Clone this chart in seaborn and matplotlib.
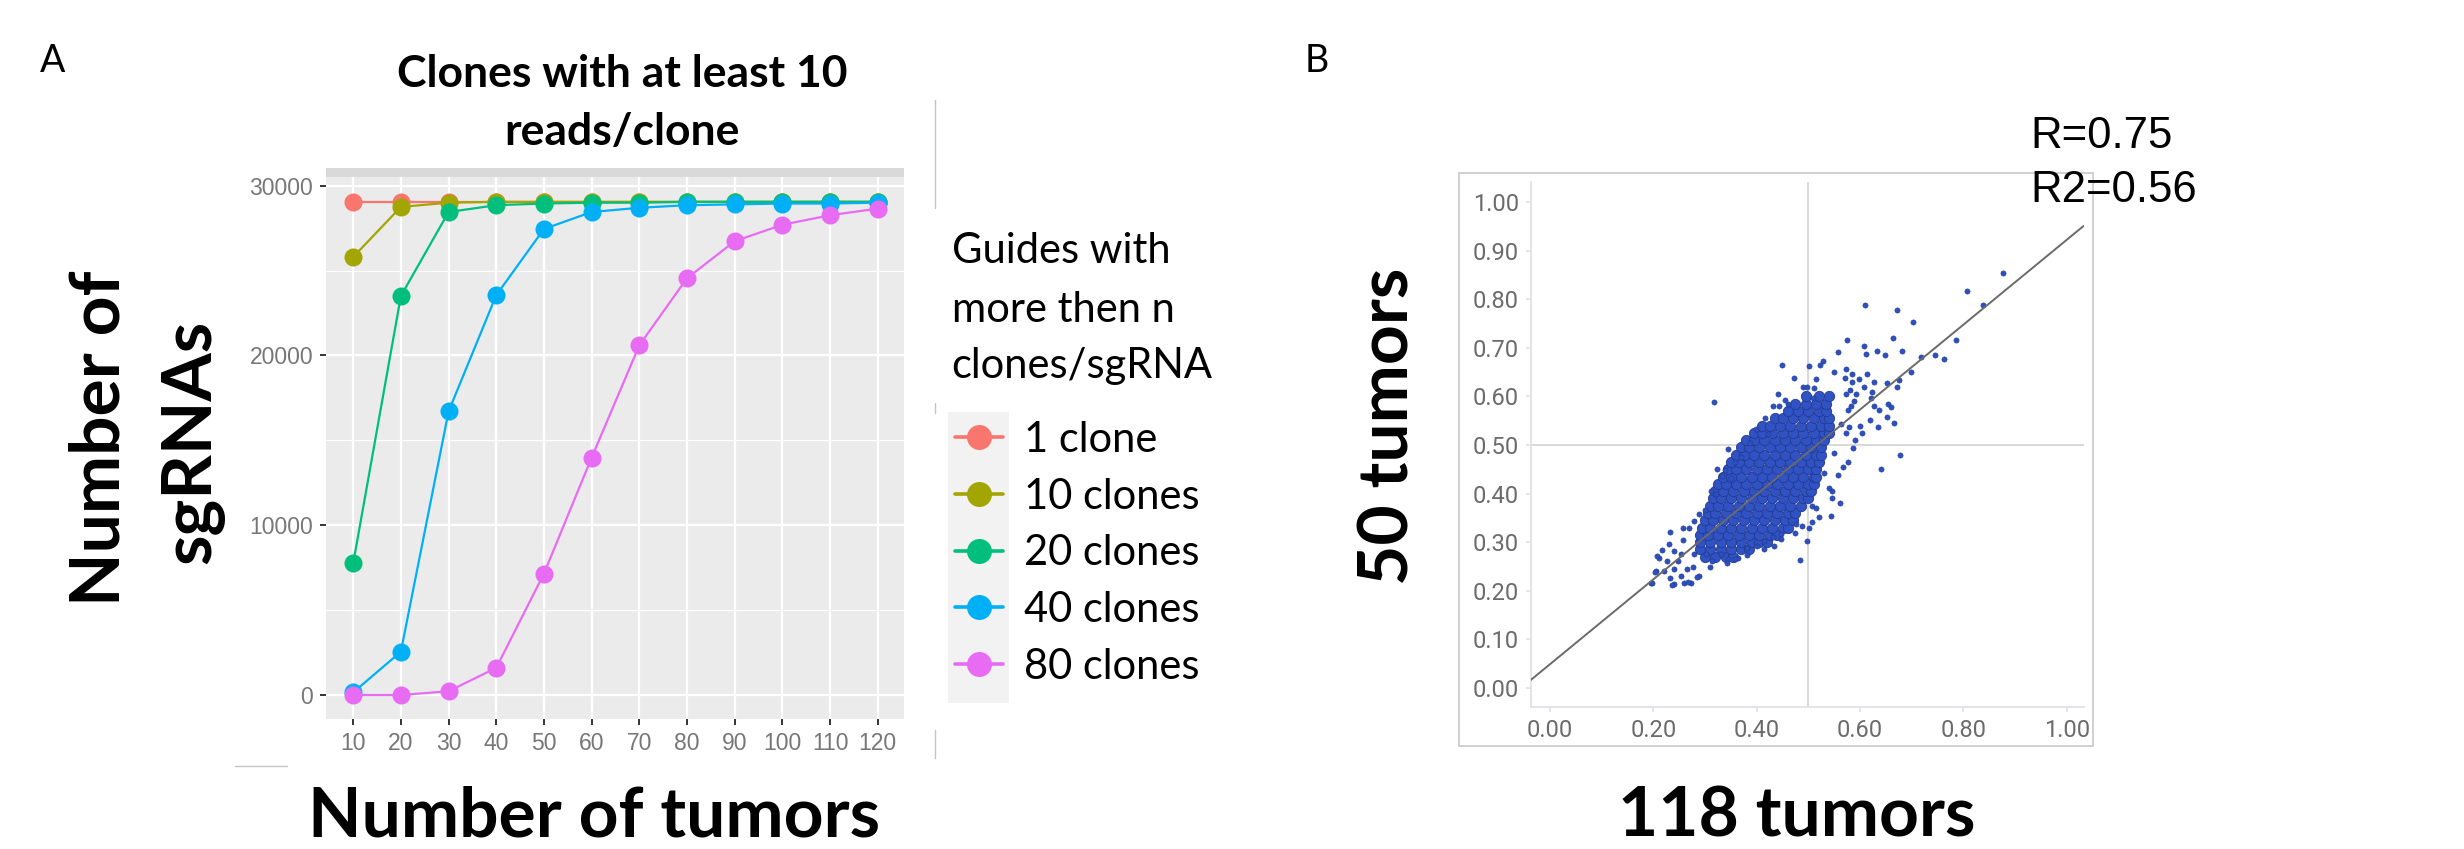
import matplotlib
matplotlib.use("Agg")
import matplotlib.pyplot as plt
import seaborn as sns
import pandas as pd
from matplotlib.lines import Line2D
from matplotlib.patches import Rectangle

W, H = 2464, 849


def fx(x):
    return x / W


def fy(y):
    return 1 - y / H


# ---- panel A data: number of sgRNAs vs number of tumors ----
tumors = [10, 20, 30, 40, 50, 60, 70, 80, 90, 100, 110, 120]
clone_groups = ["1 clone", "10 clones", "20 clones", "40 clones", "80 clones"]
one_clone = [29050, 29050, 29050, 29050, 29050, 29050, 29050, 29050, 29050, 29050, 29050, 29050]
ten_clones = [25800, 28750, 29000, 29050, 29050, 29050, 29050, 29050, 29050, 29050, 29050, 29050]
twenty_clones = [7750, 23500, 28450, 28850, 28950, 29000, 29000, 29050, 29050, 29050, 29050, 29050]
forty_clones = [150, 2550, 16700, 23550, 27450, 28450, 28700, 28850, 28900, 28950, 28950, 29000]
eighty_clones = [0, 0, 220, 1600, 7150, 13980, 20600, 24550, 26730, 27700, 28260, 28650]
group_colors = ["#F8766D", "#A3A500", "#00BF7D", "#00B0F6", "#E76BF3"]

# ---- panel B data: guide scores, 118 tumors (x) vs 50 tumors (y) ----
# dense centre of the cloud, one row per y level
core_levels = [0.27, 0.285, 0.30, 0.315, 0.33, 0.345, 0.36, 0.375, 0.39, 0.405, 0.42,
               0.435, 0.45, 0.465, 0.48, 0.495, 0.51, 0.525, 0.54, 0.555, 0.57, 0.585, 0.60]
core_rows = [
    [0.30, 0.32, 0.34, 0.355],
    [0.29, 0.31, 0.33, 0.35, 0.37, 0.385],
    [0.29, 0.31, 0.33, 0.35, 0.37, 0.39, 0.405, 0.42],
    [0.29, 0.305, 0.325, 0.345, 0.365, 0.385, 0.405, 0.425, 0.44],
    [0.295, 0.31, 0.33, 0.35, 0.37, 0.39, 0.41, 0.43, 0.45, 0.46],
    [0.30, 0.315, 0.335, 0.355, 0.375, 0.395, 0.415, 0.435, 0.455, 0.47],
    [0.305, 0.32, 0.34, 0.36, 0.38, 0.40, 0.42, 0.44, 0.46, 0.475],
    [0.31, 0.325, 0.345, 0.365, 0.385, 0.405, 0.425, 0.445, 0.465, 0.485],
    [0.315, 0.33, 0.35, 0.37, 0.39, 0.41, 0.43, 0.45, 0.47, 0.49, 0.50],
    [0.32, 0.335, 0.355, 0.375, 0.395, 0.415, 0.435, 0.455, 0.475, 0.495, 0.505],
    [0.325, 0.34, 0.36, 0.38, 0.40, 0.42, 0.44, 0.46, 0.48, 0.50, 0.51],
    [0.335, 0.35, 0.37, 0.39, 0.41, 0.43, 0.45, 0.47, 0.49, 0.51, 0.515],
    [0.345, 0.36, 0.38, 0.40, 0.42, 0.44, 0.46, 0.48, 0.50, 0.515],
    [0.35, 0.365, 0.385, 0.405, 0.425, 0.445, 0.465, 0.485, 0.505, 0.52],
    [0.36, 0.375, 0.395, 0.415, 0.435, 0.455, 0.475, 0.495, 0.515, 0.525],
    [0.37, 0.385, 0.405, 0.425, 0.445, 0.465, 0.485, 0.505, 0.525],
    [0.38, 0.395, 0.415, 0.435, 0.455, 0.475, 0.495, 0.515, 0.53],
    [0.395, 0.41, 0.43, 0.45, 0.47, 0.49, 0.51, 0.53, 0.54],
    [0.41, 0.425, 0.445, 0.465, 0.485, 0.505, 0.525, 0.54],
    [0.435, 0.45, 0.47, 0.49, 0.51, 0.53, 0.54],
    [0.46, 0.48, 0.50, 0.52, 0.535],
    [0.475, 0.495, 0.515, 0.535],
    [0.495, 0.52, 0.54],
]
# scattered guides around the centre
spread_x = [0.877, 0.807, 0.839, 0.609, 0.672, 0.703, 0.663, 0.574, 0.786, 0.607,
            0.632, 0.681, 0.649, 0.557, 0.611, 0.719, 0.746, 0.762, 0.698, 0.449,
            0.501, 0.473, 0.317, 0.666, 0.634, 0.604, 0.677, 0.641, 0.586, 0.576,
            0.561, 0.544, 0.546, 0.484, 0.498, 0.502, 0.196, 0.344, 0.324, 0.398,
            0.416, 0.441, 0.529, 0.522, 0.550, 0.572, 0.584, 0.613, 0.570, 0.515,
            0.598, 0.675, 0.584, 0.608, 0.628, 0.653, 0.672, 0.581, 0.592, 0.573,
            0.624, 0.621, 0.588, 0.654, 0.660, 0.582, 0.637, 0.627, 0.653, 0.619,
            0.577, 0.563, 0.579, 0.600, 0.590, 0.573, 0.550, 0.558, 0.567, 0.546,
            0.521, 0.508, 0.476, 0.433, 0.338, 0.489, 0.498, 0.511, 0.509, 0.444,
            0.460, 0.422, 0.387, 0.370, 0.358, 0.350, 0.332, 0.311, 0.321, 0.300,
            0.289, 0.278, 0.269, 0.258, 0.232, 0.231, 0.217, 0.258, 0.240, 0.211,
            0.206, 0.220, 0.233, 0.240, 0.260, 0.272, 0.289, 0.276, 0.247, 0.278,
            0.314, 0.330, 0.363, 0.344, 0.382, 0.401, 0.415, 0.431, 0.447, 0.198,
            0.265, 0.301, 0.253, 0.227, 0.240, 0.253, 0.204, 0.208, 0.237, 0.267,
            0.285, 0.431, 0.455, 0.531, 0.540, 0.515, 0.507, 0.487, 0.475, 0.447,
            0.414, 0.382, 0.358, 0.342, 0.309]
spread_y = [0.854, 0.817, 0.789, 0.788, 0.777, 0.754, 0.720, 0.716, 0.717, 0.704,
            0.694, 0.694, 0.686, 0.692, 0.688, 0.681, 0.686, 0.677, 0.651, 0.665,
            0.662, 0.638, 0.588, 0.546, 0.536, 0.524, 0.480, 0.451, 0.494, 0.464,
            0.380, 0.354, 0.391, 0.263, 0.303, 0.329, 0.216, 0.492, 0.451, 0.532,
            0.555, 0.605, 0.673, 0.664, 0.651, 0.657, 0.646, 0.646, 0.638, 0.636,
            0.635, 0.634, 0.629, 0.620, 0.630, 0.627, 0.620, 0.613, 0.605, 0.605,
            0.610, 0.597, 0.591, 0.585, 0.578, 0.580, 0.571, 0.580, 0.557, 0.552,
            0.571, 0.543, 0.538, 0.540, 0.510, 0.524, 0.483, 0.439, 0.455, 0.406,
            0.351, 0.375, 0.338, 0.292, 0.448, 0.620, 0.620, 0.618, 0.596, 0.580,
            0.585, 0.523, 0.505, 0.475, 0.464, 0.433, 0.437, 0.406, 0.399, 0.367,
            0.358, 0.344, 0.330, 0.330, 0.320, 0.297, 0.284, 0.304, 0.282, 0.268,
            0.240, 0.241, 0.227, 0.213, 0.217, 0.217, 0.231, 0.248, 0.262, 0.275,
            0.262, 0.275, 0.268, 0.265, 0.289, 0.292, 0.303, 0.310, 0.316, 0.217,
            0.245, 0.275, 0.275, 0.262, 0.245, 0.231, 0.238, 0.271, 0.212, 0.218,
            0.229, 0.581, 0.593, 0.443, 0.411, 0.370, 0.342, 0.334, 0.318, 0.306,
            0.285, 0.273, 0.265, 0.257, 0.249]
fit_slope = 0.873
fit_intercept = 0.049
r_label = "R=0.75"
r2_label = "R2=0.56"

sns.set_theme(style="white")
plt.rcParams["font.family"] = ["Lato", "DejaVu Sans"]
plt.rcParams["text.color"] = "black"

fig = plt.figure(figsize=(W / 100, H / 100), dpi=100)

# ================= panel A =================
axA = fig.add_axes([fx(326), fy(719.3), (904 - 326) / W, (719.3 - 176.7) / H])
axA.set_facecolor("#EBEBEB")

series = [one_clone, ten_clones, twenty_clones, forty_clones, eighty_clones]
dfA = pd.DataFrame({
    "tumors": tumors * len(clone_groups),
    "sgrnas": [v for s in series for v in s],
    "clones": [g for g in clone_groups for _ in tumors],
})
sns.lineplot(data=dfA, x="tumors", y="sgrnas", hue="clones", hue_order=clone_groups,
             palette=group_colors, marker="o", markersize=13, markeredgewidth=0,
             linewidth=1.6, legend=False, ax=axA, zorder=3)

axA.set_xlim(4.3, 125.5)
axA.set_ylim(-1431, 30530)
axA.set_xticks(tumors)
axA.set_yticks([0, 10000, 20000, 30000])
axA.set_yticks([5000, 15000, 25000], minor=True)
axA.grid(which="major", color="white", linewidth=1.6)
axA.grid(which="minor", axis="y", color="white", linewidth=0.8)
axA.set_axisbelow(True)
for sp in axA.spines.values():
    sp.set_visible(False)
axA.tick_params(which="major", length=4.3, width=1.4, color="#333333",
                labelcolor="#777777", labelsize=16.5, pad=5,
                left=True, bottom=True)
axA.tick_params(which="minor", length=0)
for lab in axA.get_xticklabels() + axA.get_yticklabels():
    lab.set_fontfamily("Liberation Sans")
axA.set_xlabel("")
axA.set_ylabel("")
# grey strip above the panel
axA.add_patch(Rectangle((0, 1), 1, 8.4 / 542.6, transform=axA.transAxes,
                        clip_on=False, color="#D9D9D9", lw=0))

fig.text(fx(40), fy(72), "A", fontsize=27, va="baseline")
fig.text(fx(622), fy(87.3), "Clones with at least 10", fontsize=32,
         fontweight="bold", ha="center", va="baseline")
fig.text(fx(622), fy(145), "reads/clone", fontsize=32,
         fontweight="bold", ha="center", va="baseline")
fig.text(fx(594), fy(836.7), "Number of tumors", fontsize=50,
         fontweight="bold", ha="center", va="baseline")
fig.text(fx(120), fy(438.3), "Number of", fontsize=50, fontweight="bold",
         rotation=90, rotation_mode="anchor", ha="center", va="baseline")
fig.text(fx(210), fy(441.7), "sgRNAs", fontsize=50, fontweight="bold",
         rotation=90, rotation_mode="anchor", ha="center", va="baseline")

# legend
for txt, yb in zip(["Guides with", "more then n", "clones/sgRNA"], [263.3, 321.7, 378.3]):
    fig.text(fx(951.7), fy(yb), txt, fontsize=30, ha="left", va="baseline")
fig.add_artist(Rectangle((fx(947.7), fy(703.3)), (1009.3 - 947.7) / W,
                         (703.3 - 411.7) / H, transform=fig.transFigure,
                         color="#F2F2F2", lw=0, zorder=0))
handles = [Line2D([], [], color=c, lw=2.6, marker="o", markersize=18,
                  markeredgewidth=0) for c in group_colors]
fig.legend(handles, clone_groups, loc="center left",
           bbox_to_anchor=(fx(955), fy(553.3)), frameon=False, fontsize=30,
           handlelength=1.15, handletextpad=0.5, labelspacing=0.45,
           borderpad=0, borderaxespad=0)

# thin border fragments left from the original panel layout
for y0, y1 in [(100, 208), (403, 413), (730, 758)]:
    fig.add_artist(Line2D([fx(935.3), fx(935.3)], [fy(y0), fy(y1)],
                          color="#C4C4C4", lw=1))
fig.add_artist(Line2D([fx(235), fx(287)], [fy(766), fy(766)], color="#C4C4C4", lw=1))

# ================= panel B =================
axB = fig.add_axes([fx(1530.7), fy(706.7), (2083.7 - 1530.7) / W, (706.7 - 182.3) / H])
axB.set_xlim(-0.0374, 1.033)
axB.set_ylim(-0.0385, 1.0405)
axB.axvline(0.5, color="#D6D6D6", lw=1.3, zorder=1)
axB.axhline(0.5, color="#D6D6D6", lw=1.3, zorder=1)

core_x = [x for row in core_rows for x in row]
core_y = [lv for lv, row in zip(core_levels, core_rows) for _ in row]
sns.scatterplot(x=core_x, y=core_y, s=55, color="#3052C2", edgecolor="#223A92",
                linewidth=0.6, ax=axB, zorder=2)
sns.scatterplot(x=spread_x, y=spread_y, s=14, color="#2E4FC0", edgecolor="#1D3A8F",
                linewidth=0.4, ax=axB, zorder=2)
axB.axline((0, fit_intercept), slope=fit_slope, color="#6A6A6A", lw=1.4, zorder=3)

ticksB = [0.0, 0.1, 0.2, 0.3, 0.4, 0.5, 0.6, 0.7, 0.8, 0.9, 1.0]
axB.set_yticks(ticksB)
axB.set_yticklabels([f"{t:.2f}" for t in ticksB])
axB.set_xticks(ticksB[::2])
axB.set_xticklabels([f"{t:.2f}" for t in ticksB[::2]])
for side in ["top", "right"]:
    axB.spines[side].set_visible(False)
for side in ["left", "bottom"]:
    axB.spines[side].set_color("#E0E0EA")
    axB.spines[side].set_linewidth(1.3)
axB.tick_params(length=3.5, width=1.2, color="#E0E0EA", labelcolor="#6B6B6B",
                labelsize=17, pad=5, left=True, bottom=True)
for lab in axB.get_xticklabels() + axB.get_yticklabels():
    lab.set_fontfamily("Roboto")
axB.set_xlabel("")
axB.set_ylabel("")

fig.add_artist(Rectangle((fx(1459.3), fy(746)), (2093.3 - 1459.3) / W, (746 - 172.5) / H,
                         transform=fig.transFigure, fill=False,
                         edgecolor="#C8C8C8", lw=1.2))
fig.text(fx(1305), fy(72.3), "B", fontsize=27, va="baseline")
fig.text(fx(1408.5), fy(426), "50 tumors", fontsize=50, fontweight="bold",
         rotation=90, rotation_mode="anchor", ha="center", va="baseline")
fig.text(fx(1796.5), fy(836.7), "118 tumors", fontsize=50, fontweight="bold",
         ha="center", va="baseline")
fig.text(fx(2030), fy(148.3), r_label, fontsize=31.5, family="Liberation Sans", va="baseline")
fig.text(fx(2030), fy(201.7), r2_label, fontsize=31.5, family="Liberation Sans", va="baseline")

fig.savefig("out.png", dpi=100)
